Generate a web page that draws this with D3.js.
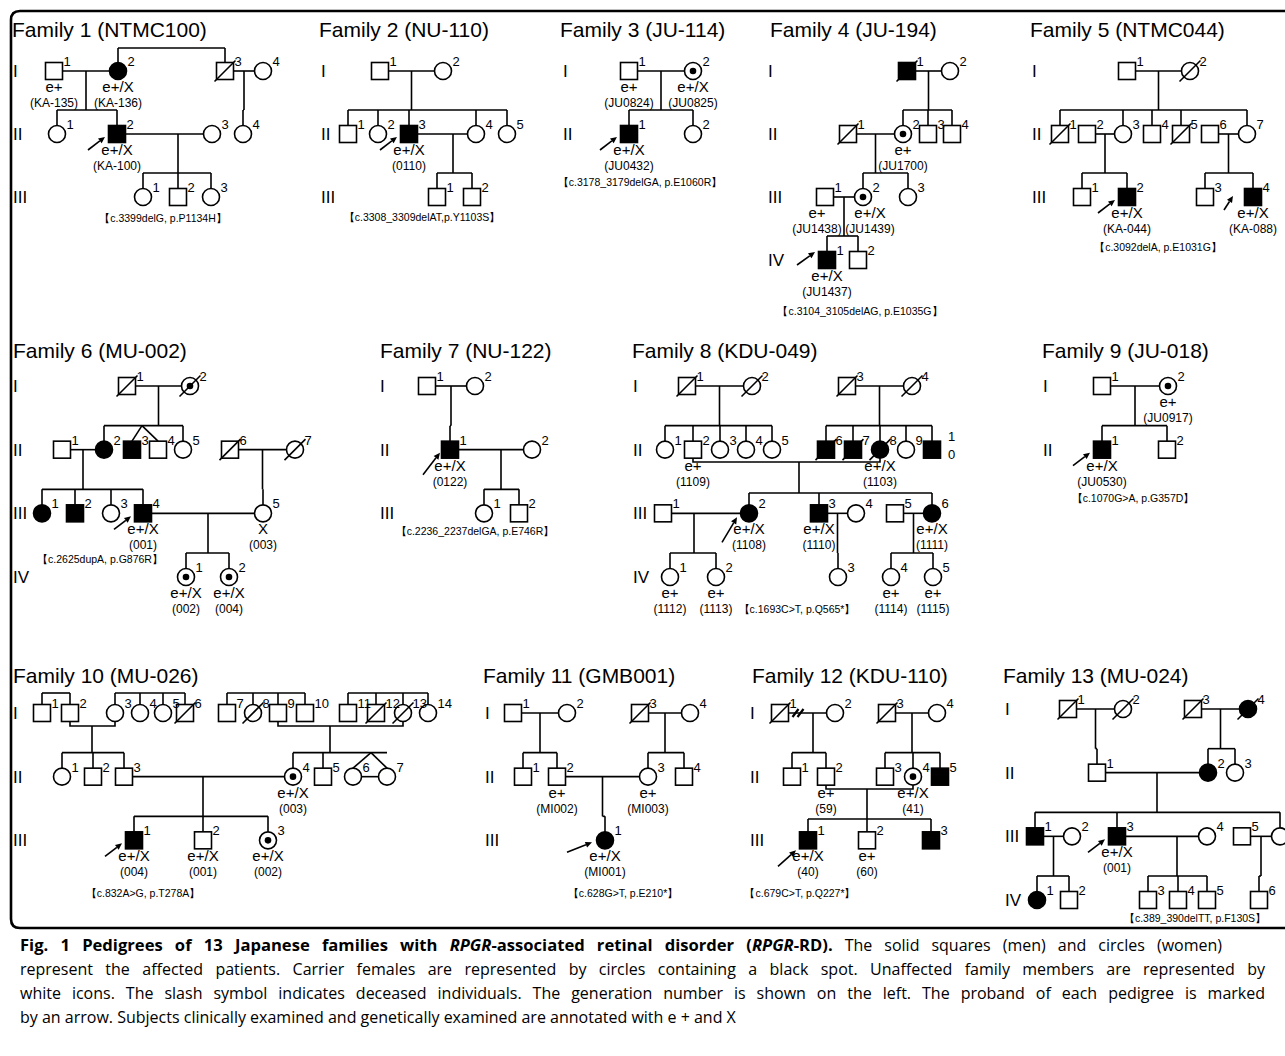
<!DOCTYPE html>
<html><head><meta charset="utf-8">
<script src="https://cdn.jsdelivr.net/npm/d3@7"></script>
<style>body{margin:0;background:#fff}svg{display:block}</style>
</head><body><svg id="c" width="1285" height="1056"></svg>
<script>
// ---------------- DATA ----------------
const familyTitles = ["Family 1 (NTMC100)","Family 2 (NU-110)","Family 3 (JU-114)","Family 4 (JU-194)","Family 5 (NTMC044)","Family 6 (MU-002)","Family 7 (NU-122)","Family 8 (KDU-049)","Family 9 (JU-018)","Family 10 (MU-026)","Family 11 (GMB001)","Family 12 (KDU-110)","Family 13 (MU-024)"];
const generationLabels = ["I","II","III","IV"];
const familyGenerations = [3,3,2,4,3,4,3,4,2,3,3,3,4];
const mutations = ["【c.3399delG, p.P1134H】","【c.3308_3309delAT,p.Y1103S】","【c.3178_3179delGA, p.E1060R】","【c.3104_3105delAG, p.E1035G】","【c.3092delA, p.E1031G】","【c.2625dupA, p.G876R】","【c.2236_2237delGA, p.E746R】","【c.1693C>T, p.Q565*】","【c.1070G>A, p.G357D】","【c.832A>G, p.T278A】","【c.628G>T, p.E210*】","【c.679C>T, p.Q227*】","【c.389_390delTT, p.F130S】"];

// individuals: [id, pedigree position, code (m/f unaffected, M/F affected, c carrier), flags (d deceased, p proband), annotations]
const fam1People = [["I-1",54,"m","",["e+","(KA-135)"]],["I-2",118,"F","",["e+/X","(KA-136)"]],["I-3",225,"m","d"],["I-4",263,"f",""],["II-1",57,"f",""],["II-2",117,"M","p",["e+/X","(KA-100)"]],["II-3",212,"f",""],["II-4",243,"f",""],["III-1",143,"f",""],["III-2",178,"m",""],["III-3",211,"f",""]];
const fam2People = [["I-1",380,"m"],["I-2",443,"f"],["II-1",348,"m"],["II-2",378,"f"],["II-3",409,"M","p",["e+/X","(0110)"]],["II-4",476,"f"],["II-5",507,"f"],["III-1",437,"m"],["III-2",472,"m"]];
const fam3People = [["I-1",629,"m","",["e+","(JU0824)"]],["I-2",693,"c","",["e+/X","(JU0825)"]],["II-1",629,"M","p",["e+/X","(JU0432)"]],["II-2",693,"f"]];
const fam4People = [["I-1",907,"M","d"],["I-2",950,"f"],["II-1",848,"m","d"],["II-2",903,"c","",["e+","(JU1700)"]],["II-3",928,"m"],["II-4",952,"m"],["III-1",825,"m","",["e+","(JU1438)"]],["III-2",863,"c","",["e+/X","(JU1439)"]],["III-3",908,"f"],["IV-1",827,"M","p",["e+/X","(JU1437)"]],["IV-2",858,"m"]];
const fam5People = [["I-1",1127,"m"],["I-2",1190,"f","d"],["II-1",1060,"m","d"],["II-2",1087,"m"],["II-3",1123,"f"],["II-4",1152,"m"],["II-5",1181,"m","d"],["II-6",1210,"m"],["II-7",1247,"f"],["III-1",1082,"m"],["III-2",1127,"M","p",["e+/X","(KA-044)"]],["III-3",1205,"m"],["III-4",1253,"M","p",["e+/X","(KA-088)"]]];
const fam6People = [["I-1",127,"m","d"],["I-2",190,"c","d"],["II-1",62,"m"],["II-2",104,"F"],["II-3",132,"M"],["II-4",158,"m"],["II-5",183,"f"],["II-6",230,"m","d"],["II-7",295,"f","d"],["III-1",42,"F"],["III-2",75,"M"],["III-3",111,"f"],["III-4",143,"M","p",["e+/X","(001)"]],["III-5",263,"f","",["X","(003)"]],["IV-1",186,"c","",["e+/X","(002)"]],["IV-2",229,"c","",["e+/X","(004)"]]];
const fam7People = [["I-1",427,"m"],["I-2",475,"f"],["II-1",450,"M","p",["e+/X","(0122)"]],["II-2",532,"f"],["III-1",484,"f"],["III-2",519,"m"]];
const fam8People = [["I-1",687,"m","d"],["I-2",752,"f","d"],["I-3",847,"m","d"],["I-4",912,"f","d"],["II-1",665,"f"],["II-2",693,"m","",["e+","(1109)"]],["II-3",720,"f"],["II-4",746,"f"],["II-5",772,"f"],["II-6",826,"M","d"],["II-7",853,"M","d"],["II-8",880,"F","d",["e+/X","(1103)"]],["II-9",906,"f"],["II-10",932,"M"],["III-1",663,"m"],["III-2",749,"F","p",["e+/X","(1108)"]],["III-3",819,"M","",["e+/X","(1110)"]],["III-4",856,"f"],["III-5",895,"m"],["III-6",932,"F","",["e+/X","(1111)"]],["IV-1",670,"f","",["e+","(1112)"]],["IV-2",716,"f","",["e+","(1113)"]],["IV-3",838,"f"],["IV-4",891,"f","",["e+","(1114)"]],["IV-5",933,"f","",["e+","(1115)"]]];
const fam9People = [["I-1",1102,"m"],["I-2",1168,"c","",["e+","(JU0917)"]],["II-1",1102,"M","p",["e+/X","(JU0530)"]],["II-2",1167,"m"]];
const fam10People = [["I-1",42,"m"],["I-2",70,"m"],["I-3",115,"f"],["I-4",140,"f"],["I-5",163,"f"],["I-6",185,"m","d"],["I-7",227,"m"],["I-8",253,"f","d"],["I-9",278,"m"],["I-10",305,"m"],["I-11",348,"m"],["I-12",376,"m","d"],["I-13",403,"f","d"],["I-14",428,"f"],["II-1",62,"f"],["II-2",93,"m"],["II-3",124,"m"],["II-4",293,"c","",["e+/X","(003)"]],["II-5",323,"m"],["II-6",353,"f"],["II-7",387,"f"],["III-1",134,"M","p",["e+/X","(004)"]],["III-2",203,"m","",["e+/X","(001)"]],["III-3",268,"c","",["e+/X","(002)"]]];
const fam11People = [["I-1",513,"m"],["I-2",567,"f"],["I-3",640,"m","d"],["I-4",690,"f"],["II-1",523,"m"],["II-2",557,"m","",["e+","(MI002)"]],["II-3",648,"f","",["e+","(MI003)"]],["II-4",684,"m"],["III-1",605,"F","p",["e+/X","(MI001)"]]];
const fam12People = [["I-1",780,"m","d"],["I-2",835,"f"],["I-3",887,"m","d"],["I-4",937,"f"],["II-1",792,"m"],["II-2",826,"m","",["e+","(59)"]],["II-3",885,"m"],["II-4",913,"c","",["e+/X","(41)"]],["II-5",940,"M"],["III-1",808,"M","p",["e+/X","(40)"]],["III-2",867,"m","",["e+","(60)"]],["III-3",931,"M"]];
const fam13People = [["I-1",1068,"m","d"],["I-2",1123,"f","d"],["I-3",1193,"m","d"],["I-4",1248,"F","d"],["II-1",1097,"m"],["II-2",1208,"F"],["II-3",1235,"f"],["III-1",1035,"M"],["III-2",1072,"f"],["III-3",1117,"M","p",["e+/X","(001)"]],["III-4",1207,"f"],["III-5",1242,"m"],["III-6",1280,"f"],["IV-1",1037,"F"],["IV-2",1069,"m"],["IV-3",1148,"m"],["IV-4",1178,"m"],["IV-5",1207,"m"],["IV-6",1259,"m"]];

// unions: [partnerA, partnerB, children, options]
const fam1Unions = [["I-1","I-2",["II-1","II-2"]],["I-3","I-4",["II-4"]],["II-2","II-3",["III-1","III-2","III-3"],{drop:178}]];
const fam2Unions = [["I-1","I-2",["II-1","II-2","II-3","II-4","II-5"]],["II-3","II-4",["III-1","III-2"],{drop:453}]];
const fam3Unions = [["I-1","I-2",["II-1","II-2"]]];
const fam4Unions = [["I-1","I-2",["II-2","II-3","II-4"]],["II-1","II-2",["III-2","III-3"]],["III-1","III-2",["IV-1","IV-2"]]];
const fam5Unions = [["I-1","I-2",["II-1","II-3","II-4","II-5","II-7"]],["II-2","II-3",["III-1","III-2"]],["II-6","II-7",["III-3","III-4"]]];
const fam6Unions = [["I-1","I-2",["II-2","II-3","II-4","II-5"],{twins:["II-3","II-4",142]}],["II-1","II-2",["III-1","III-2","III-3","III-4"]],["II-6","II-7",["III-5"]],["III-4","III-5",["IV-1","IV-2"],{drop:208}]];
const fam7Unions = [["I-1","I-2",["II-1"]],["II-1","II-2",["III-1","III-2"],{drop:501}]];
const fam8Unions = [["I-1","I-2",["II-1","II-2","II-3","II-4","II-5"]],["I-3","I-4",["II-6","II-7","II-8","II-9","II-10"]],["II-2","II-8",["III-2","III-3","III-6"],{low:462,drop:799,sib:493}],["III-1","III-2",["IV-1","IV-2"],{drop:694}],["III-3","III-4",["IV-3"]],["III-5","III-6",["IV-4","IV-5"]]];
const fam9Unions = [["I-1","I-2",["II-1","II-2"]]];
const fam10Unions = [["I-2","I-3",["II-1","II-2","II-3"],{low:726,drop:92}],["I-9","I-13",["II-4","II-5","II-6","II-7"],{low:726,drop:330,twins:["II-6","II-7",371,true]}],["II-3","II-4",["III-1","III-2","III-3"],{drop:203}]];
const fam11Unions = [["I-1","I-2",["II-1","II-2"]],["I-3","I-4",["II-3","II-4"]],["II-2","II-3",["III-1"]]];
const fam12Unions = [["I-1","I-2",["II-1","II-2"],{drop:813,divorce:798}],["I-3","I-4",["II-3","II-4","II-5"]],["II-2","II-4",["III-1","III-2","III-3"],{low:789,drop:867,sib:819}]];
const fam13Unions = [["I-1","I-2",["II-1"]],["I-3","I-4",["II-2","II-3"]],["II-1","II-2",["III-1","III-3","III-6"],{drop:1157}],["III-1","III-2",["IV-1","IV-2"]],["III-3","III-4",["IV-3","IV-4","IV-5"],{drop:1177}],["III-5","III-6",["IV-6"]]];

// sibling groups drawn without parents: [members, line level]
const fam1Sibs = [[["I-2","I-3"],48]];
const fam10Sibs = [[["I-1","I-2"],693],[["I-3","I-4","I-5","I-6"],693],[["I-7","I-8","I-9","I-10"],693],[["I-11","I-12","I-13","I-14"],693]];

const captionLines = [
  [["b","Fig. 1 Pedigrees of 13 Japanese families with "],["bi","RPGR"],["b","-associated retinal disorder ("],["bi","RPGR"],["b","-RD)."],["n"," The solid squares (men) and circles (women)"]],
  [["n","represent the affected patients. Carrier females are represented by circles containing a black spot. Unaffected family members are represented by"]],
  [["n","white icons. The slash symbol indicates deceased individuals. The generation number is shown on the left. The proband of each pedigree is marked"]],
  [["n","by an arrow. Subjects clinically examined and genetically examined are annotated with e + and X"]]
];

// ---------------- LAYOUT ----------------
const peopleSets = [fam1People,fam2People,fam3People,fam4People,fam5People,fam6People,fam7People,fam8People,fam9People,fam10People,fam11People,fam12People,fam13People];
const unionSets = [fam1Unions,fam2Unions,fam3Unions,fam4Unions,fam5Unions,fam6Unions,fam7Unions,fam8Unions,fam9Unions,fam10Unions,fam11Unions,fam12Unions,fam13Unions];
const sibSets = {0:fam1Sibs, 9:fam10Sibs};
const titlePos = [[12,37],[319,37],[560,37],[770,37],[1030,37],[13,358],[380,358],[632,358],[1042,358],[13,683],[483,683],[752,683],[1003,683]];
const genLabelX = [13,321,563,768,1032,13,380,633,1043,13,485,750,1005];
const rowRange = [[71,260],[71,260],[71,260],[71,260],[71,260],[386,577],[386,577],[386,577],[386,577],[713,904],[713,904],[713,904],[709,900]];
const mutationPos = [[163,222],[422,221],[640,186],[860,315],[1158,251],[100,563],[475,535],[797,613],[1133,502],[143,897],[623,897],[800,897],[1195,922]];
const annotNudge = {"3:III-1":-8,"3:III-2":7};
const arrowShape = {"3:IV-1":[-30,5,-12,-8],"4:III-4":[-29,13,-20,-1],"7:III-2":[-27,29,-12,4],"10:III-1":[-38,12,-13,2],"11:III-1":[-30,26,-12,10],"6:II-1":[-27,25,-10,3]};
const stackedLabel = {"7:II-10":true};

const FONT = "'Liberation Sans', Arial, Helvetica, sans-serif";
const S = 17, R = 8.5, LW = 1.6;
const svg = d3.select("#c");
const xs = d3.scaleLinear().domain([0,1285]).range([0,1285]);

// border
svg.append("path").attr("d","M1300,928 H20 Q11,928 11,919 V20 Q11,11 20,11 H1300").attr("fill","none").attr("stroke","#000").attr("stroke-width",2.6);

const gLines = svg.append("g").attr("stroke","#000").attr("stroke-width",LW).attr("fill","none");
const gSym = svg.append("g");
const gText = svg.append("g").attr("font-family",FONT).attr("fill","#000");

peopleSets.forEach((set, fi) => {
  const ys = d3.scalePoint().domain(generationLabels).range(rowRange[fi]);
  const P = new Map(set.map(d => {
    const [gen, num] = d[0].split("-");
    return [d[0], {id:d[0], gen, num, x:xs(d[1]), y:ys(gen), code:d[2], flags:d[3]||"", ann:d[4]}];
  }));
  gText.append("text").attr("x",titlePos[fi][0]).attr("y",titlePos[fi][1]).attr("font-size",21).text(familyTitles[fi]);
  generationLabels.slice(0, familyGenerations[fi]).forEach(g => {
    gText.append("text").attr("x",genLabelX[fi]).attr("y",ys(g)+6).attr("font-size",17).text(g);
  });
  unionSets[fi].forEach(([a,b,kids,opt]) => {
    opt = opt || {};
    let pa = P.get(a), pb = P.get(b);
    if (pa.x > pb.x) [pa,pb] = [pb,pa];
    let uy, dropX;
    if (opt.low) {
      uy = opt.low;
      gLines.append("path").attr("d",`M${pa.x},${pa.y+R} V${uy} H${pb.x} V${pb.y+R}`);
      dropX = opt.drop !== undefined ? opt.drop : (pa.x+pb.x)/2;
    } else {
      uy = pa.y;
      const x1 = pa.x + R, x2 = pb.x - R;
      gLines.append("line").attr("x1",x1).attr("x2",x2).attr("y1",uy).attr("y2",uy);
      dropX = opt.drop !== undefined ? opt.drop : (x1+x2)/2;
    }
    if (opt.divorce) {
      [-2.5,2.5].forEach(o => gLines.append("line").attr("stroke-width",2.2)
        .attr("x1",opt.divorce+o-3).attr("y1",uy+4).attr("x2",opt.divorce+o+3).attr("y2",uy-4));
    }
    const K = kids.map(k => P.get(k));
    const sibY = opt.sib !== undefined ? opt.sib : K[0].y - 24;
    gLines.append("line").attr("x1",dropX).attr("x2",dropX).attr("y1",uy).attr("y2",sibY);
    const xsK = K.map(k => k.x).concat([dropX]);
    const tw = opt.twins;
    if (tw) xsK.push(tw[2]);
    const lo = d3.min(xsK), hi = d3.max(xsK);
    if (hi - lo > 0.5) gLines.append("line").attr("x1",lo).attr("x2",hi).attr("y1",sibY).attr("y2",sibY);
    K.forEach(k => {
      if (tw && (k.id === tw[0] || k.id === tw[1])) {
        gLines.append("line").attr("x1",tw[2]).attr("y1",sibY).attr("x2",k.x).attr("y2",k.y-R);
      } else {
        gLines.append("line").attr("x1",k.x).attr("x2",k.x).attr("y1",sibY).attr("y2",k.y-R);
      }
    });
    if (tw && tw[3]) {
      const t1 = P.get(tw[0]), t2 = P.get(tw[1]);
      gLines.append("line").attr("x1",t1.x+R).attr("x2",t2.x-R).attr("y1",t1.y).attr("y2",t2.y);
    }
  });
  (sibSets[fi] || []).forEach(([members, level]) => {
    const M = members.map(m => P.get(m));
    gLines.append("line").attr("x1",d3.min(M,m=>m.x)).attr("x2",d3.max(M,m=>m.x)).attr("y1",level).attr("y2",level);
    M.forEach(m => gLines.append("line").attr("x1",m.x).attr("x2",m.x).attr("y1",level).attr("y2",m.y-R));
  });
  P.forEach(p => {
    const male = p.code === "m" || p.code === "M";
    const filled = p.code === "M" || p.code === "F";
    const g = gSym.append("g");
    if (male) g.append("rect").attr("x",p.x-S/2).attr("y",p.y-S/2).attr("width",S).attr("height",S);
    else g.append("circle").attr("cx",p.x).attr("cy",p.y).attr("r",R);
    g.selectAll("rect,circle").attr("fill",filled?"#000":"#fff").attr("stroke","#000").attr("stroke-width",LW);
    if (p.code === "c") g.append("circle").attr("cx",p.x).attr("cy",p.y).attr("r",3.3).attr("fill","#000");
    if (p.flags.includes("d")) g.append("line").attr("x1",p.x-10.5).attr("y1",p.y+10.5).attr("x2",p.x+10.5).attr("y2",p.y-10.5).attr("stroke","#000").attr("stroke-width",LW);
    const key = fi + ":" + p.id;
    if (stackedLabel[key]) {
      gText.append("text").attr("x",p.x+16).attr("y",p.y-9).attr("font-size",13).text(p.num[0]);
      gText.append("text").attr("x",p.x+16).attr("y",p.y+9).attr("font-size",13).text(p.num.slice(1));
    } else {
      gText.append("text").attr("x",p.x+9.5).attr("y",p.y-5).attr("font-size",13).text(p.num);
    }
    if (p.ann) {
      const ax = p.x + (annotNudge[key] || 0);
      gText.append("text").attr("x",ax).attr("y",p.y+21).attr("text-anchor","middle").attr("font-size",15).text(p.ann[0]);
      if (p.ann[1]) gText.append("text").attr("x",ax).attr("y",p.y+36).attr("text-anchor","middle").attr("font-size",12).text(p.ann[1]);
    }
    if (p.flags.includes("p")) {
      const a = arrowShape[key] || [-29,16,-12,3];
      const x1 = p.x+a[0], y1 = p.y+a[1], x2 = p.x+a[2], y2 = p.y+a[3];
      const ang = Math.atan2(y2-y1, x2-x1), L = 6.5, W = 3;
      const bx = x2 - L*Math.cos(ang), by = y2 - L*Math.sin(ang);
      gSym.append("line").attr("x1",x1).attr("y1",y1).attr("x2",bx).attr("y2",by).attr("stroke","#000").attr("stroke-width",LW);
      gSym.append("path").attr("d",`M${x2},${y2} L${bx - W*Math.sin(ang)},${by + W*Math.cos(ang)} L${bx + W*Math.sin(ang)},${by - W*Math.cos(ang)} Z`).attr("fill","#000");
    }
  });
  gText.append("text").attr("x",mutationPos[fi][0]).attr("y",mutationPos[fi][1]).attr("text-anchor","middle").attr("font-size",10.5).text(mutations[fi]);
});

// caption: justified lines (extra space spread over every word gap)
const cap = svg.append("g").attr("font-family","'Open Sans', 'Noto Sans', sans-serif").attr("font-size",16).attr("fill","#000");
const capY = [951,975,999,1023];
const capLen = [1202,1245,1245,null];
captionLines.forEach((segs, i) => {
  const t = cap.append("text").attr("x",20).attr("y",capY[i]);
  segs.forEach(([st, s]) => t.append("tspan")
      .attr("font-weight", st.startsWith("b") ? "bold" : "normal")
      .attr("font-size", st.startsWith("b") ? 16.6 : 16)
      .attr("font-style", st.endsWith("i") ? "italic" : "normal").text(s));
  if (capLen[i]) {
    const natural = t.node().getComputedTextLength();
    const spaces = segs.map(s => s[1]).join("").split(" ").length - 1;
    t.style("word-spacing", Math.max(0, (capLen[i] - natural) / spaces) + "px");
  }
});
</script></body></html>
